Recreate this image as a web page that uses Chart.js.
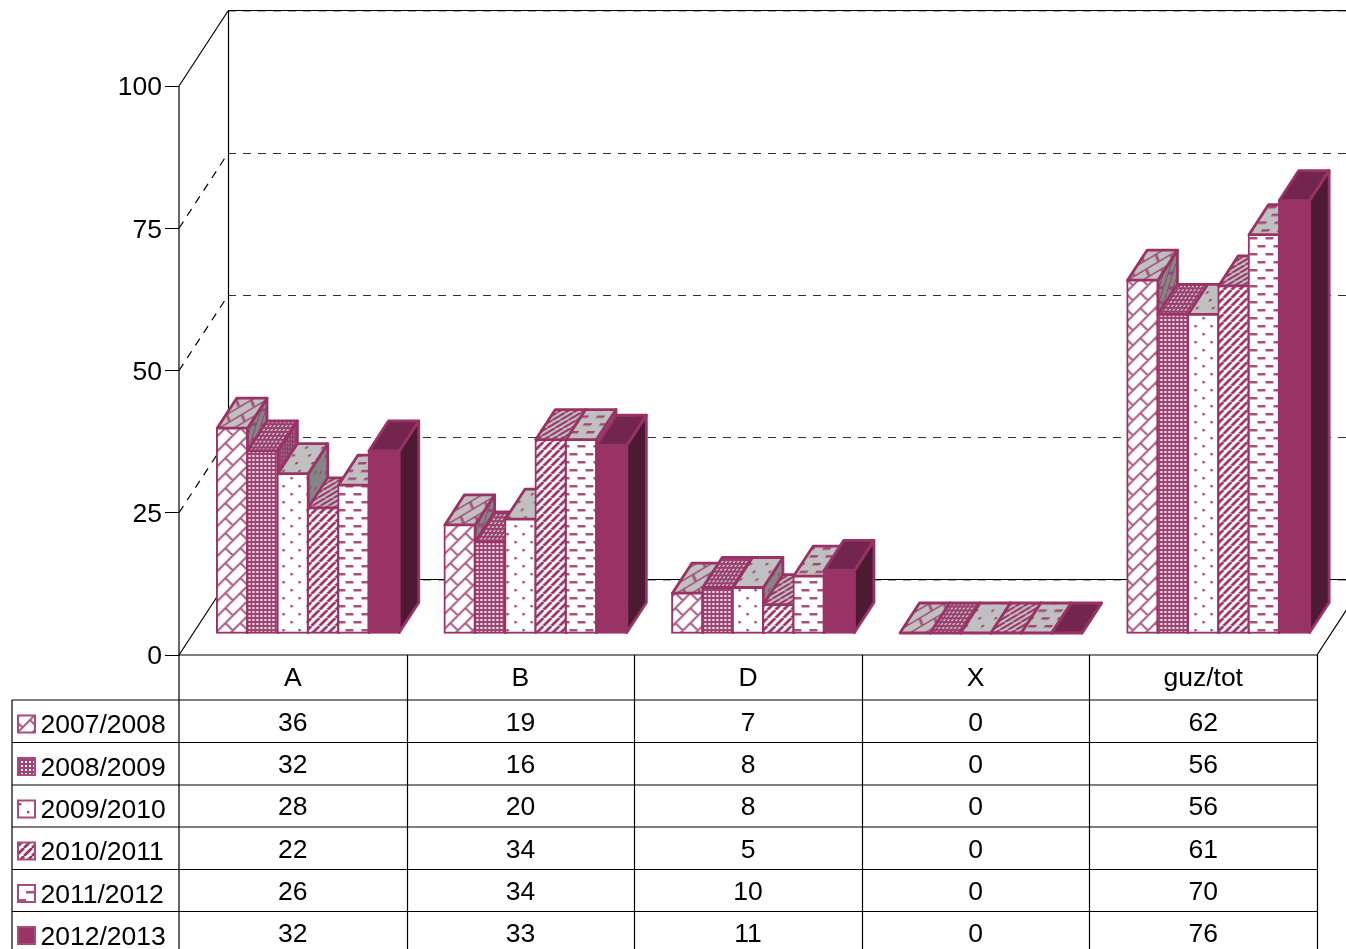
<!DOCTYPE html>
<html>
<head>
<meta charset="utf-8">
<title>chart</title>
<script src="https://cdn.jsdelivr.net/npm/chart.js@4/dist/chart.umd.min.js"></script>
<style>
html, body { margin: 0; padding: 0; background: #fff; overflow: hidden; }
canvas { display: block; }
</style>
</head>
<body>
<canvas id="chart" width="1346" height="949"></canvas>
<script>
const categories = ['A', 'B', 'D', 'X', 'guz/tot'];
const seasons = ['2007/2008', '2008/2009', '2009/2010', '2010/2011', '2011/2012', '2012/2013'];
const values0708 = [36, 19, 7, 0, 62];
const values0809 = [32, 16, 8, 0, 56];
const values0910 = [28, 20, 8, 0, 56];
const values1011 = [22, 34, 5, 0, 61];
const values1112 = [26, 34, 10, 0, 70];
const values1213 = [32, 33, 11, 0, 76];
const yTicks = [0, 25, 50, 75, 100];

const seriesValues = [values0708, values0809, values0910, values1011, values1112, values1213];

const PURPLE = '#993366';
const FONT = '26.5px "Liberation Sans"';
// layout of the fake 3d box
const WALL_DX = 49, WALL_DY = -75;
const BAR_DX = 15.4, BAR_DY = -22;
const DEPTH_DX = 19.5, DEPTH_DY = -30;
const ROW_Y = [700, 742.5, 785, 827, 869.5, 911.5];

// hatch tiles
function brick(c) {
  c.strokeStyle = PURPLE; c.lineWidth = 2; c.globalAlpha = 0.8;
  c.beginPath();
  for (let a = -60; a <= 120; a += 15) {
    c.moveTo(a + 60, -60); c.lineTo(a - 60, 60);
    const k = Math.round(a / 15);
    const off = Math.abs(k % 2) ? 15 : 0;
    for (let m = -4; m <= 4; m++) {
      const d = off + m * 30;
      c.moveTo((a + d) / 2, (a - d) / 2);
      c.lineTo((a + 15 + d) / 2, (a + 15 - d) / 2);
    }
  }
  c.stroke();
}
function denseDots(c) {
  c.fillStyle = PURPLE; c.globalAlpha = 0.92; c.fillRect(0, 0, 4, 4);
  c.clearRect(0.7, 0.7, 2.6, 2.6);
}
function sparseDots(c) {
  c.fillStyle = PURPLE; c.globalAlpha = 0.9;
  c.fillRect(3, 3, 2.4, 2.4);
  c.fillRect(11, 11, 2.4, 2.4);
}
function stripes(c) {
  c.strokeStyle = PURPLE; c.lineWidth = 2.8;
  c.beginPath();
  for (let a = -8; a <= 16; a += 8) { c.moveTo(a, 8); c.lineTo(a + 8, 0); }
  c.stroke();
}
function dashes(c) {
  c.fillStyle = PURPLE; c.globalAlpha = 0.85;
  c.fillRect(2, 3, 8, 2.5);
  c.fillRect(10, 11, 6, 2.5);
  c.fillRect(0, 11, 2, 2.5);
}
const tiles = [[brick, 30], [denseDots, 4], [sparseDots, 16], [stripes, 8], [dashes, 16]];

function makePattern(tile, bg) {
  const cv = document.createElement('canvas');
  cv.width = cv.height = tile[1];
  const c = cv.getContext('2d');
  tile[0](c);
  if (bg) {
    c.globalAlpha = 1;
    c.globalCompositeOperation = 'destination-over';
    c.fillStyle = bg;
    c.fillRect(0, 0, tile[1], tile[1]);
  }
  return c.createPattern(cv, 'repeat');
}

const frontFills = [], topFills = [], sideFills = [];
seasons.forEach((s, i) => {
  if (i < tiles.length) {
    frontFills.push(makePattern(tiles[i], '#ffffff'));
    const t = makePattern(tiles[i], '#c0c0c0');
    t.setTransform(new DOMMatrix([1, 0, -0.63, 0.97, 0, 0]));
    topFills.push(t);
    const d = makePattern(tiles[i], '#858585');
    d.setTransform(new DOMMatrix([0.63, -0.97, 0, 1, 0, 0]));
    sideFills.push(d);
  } else {
    frontFills.push(PURPLE);
    topFills.push('#73264d');
    sideFills.push('#4d1a33');
  }
});

function poly(ctx, pts, fill) {
  ctx.beginPath();
  pts.forEach((p, i) => i ? ctx.lineTo(p[0], p[1]) : ctx.moveTo(p[0], p[1]));
  ctx.closePath();
  ctx.fillStyle = fill;
  ctx.fill();
  ctx.strokeStyle = PURPLE;
  ctx.lineWidth = 2.8;
  ctx.lineJoin = 'round';
  ctx.stroke();
}

function line(ctx, x1, y1, x2, y2, color, dash) {
  ctx.save();
  ctx.beginPath();
  ctx.strokeStyle = color;
  ctx.lineWidth = 1.2;
  ctx.setLineDash(dash || []);
  ctx.moveTo(x1, y1);
  ctx.lineTo(x2, y2);
  ctx.stroke();
  ctx.restore();
}

const box3d = {
  id: 'box3d',
  beforeDatasetsDraw(chart) {
    const ctx = chart.ctx, x = chart.scales.x, y = chart.scales.y;
    const backX = x.left + WALL_DX;
    const farX = x.right + WALL_DX;
    yTicks.forEach(v => {
      const py = y.getPixelForValue(v);
      const solid = v === 0 || v === 100;
      const dash = solid ? null : [8, 7];
      line(ctx, x.left, py, backX, py + WALL_DY, '#000', dash);
      if (solid) line(ctx, backX, Math.floor(py + WALL_DY) - 0.5, farX, Math.floor(py + WALL_DY) - 0.5, '#000');
      line(ctx, backX, Math.floor(py + WALL_DY) + 0.5, farX, Math.floor(py + WALL_DY) + 0.5, solid ? '#aaa' : '#333', [8, 7]);
    });
    line(ctx, backX + 0.5, y.top + WALL_DY, backX + 0.5, y.bottom + WALL_DY, '#000');
    line(ctx, x.right, y.bottom, farX, y.bottom + WALL_DY, '#000');
  },
  // chart.js paints the last dataset first, the bars here overlap left to right
  beforeDatasetDraw() {
    return false;
  },
  afterDatasetsDraw(chart) {
    const ctx = chart.ctx;
    chart.getSortedVisibleDatasetMetas().forEach(meta => {
      const i = meta.index;
      ctx.save();
      ctx.translate(BAR_DX, BAR_DY);
      meta.controller.draw();
      meta.data.forEach(bar => {
        const L = bar.x - bar.width / 2, R = bar.x + bar.width / 2, T = bar.y, B = bar.base;
        poly(ctx, [[R, T], [R + DEPTH_DX, T + DEPTH_DY], [R + DEPTH_DX, B + DEPTH_DY], [R, B]], sideFills[i]);
        poly(ctx, [[L, T], [R, T], [R + DEPTH_DX, T + DEPTH_DY], [L + DEPTH_DX, T + DEPTH_DY]], topFills[i]);
      });
      ctx.restore();
    });
  },
  afterDraw(chart) {
    const ctx = chart.ctx, x = chart.scales.x, y = chart.scales.y;
    const H = chart.height;
    // data table under the plot
    line(ctx, x.left, y.top, x.left, H, '#000');
    line(ctx, 12, ROW_Y[0], 12, H, '#000');
    line(ctx, x.left, y.bottom, x.right, y.bottom, '#000');
    categories.forEach((c, i) => {
      const px = Math.round(x.getPixelForValue(i) + (x.getPixelForValue(1) - x.getPixelForValue(0)) / 2) + 0.5;
      line(ctx, px, y.bottom, px, H, '#000');
    });
    ROW_Y.forEach(ry => line(ctx, 12, ry, x.right, ry, '#000'));

    ctx.save();
    ctx.font = FONT;
    ctx.fillStyle = '#000';
    ctx.textBaseline = 'alphabetic';
    seasons.forEach((name, r) => {
      const top = ROW_Y[r];
      ctx.fillStyle = frontFills[r];
      ctx.fillRect(18, top + 15.5, 17, 17);
      ctx.strokeStyle = '#a84d7a';
      ctx.lineWidth = 2;
      ctx.strokeRect(18, top + 15.5, 17, 17);
      ctx.fillStyle = '#000';
      ctx.textAlign = 'left';
      ctx.fillText(name, 40.5, top + 33);
      ctx.textAlign = 'center';
      seriesValues[r].forEach((v, i) => ctx.fillText(String(v), x.getPixelForValue(i), 731 + r * 42.2));
    });
    ctx.restore();
  }
};

const datasets = seasons.map((name, i) => ({
  label: name,
  data: seriesValues[i],
  backgroundColor: frontFills[i],
  borderColor: PURPLE,
  borderWidth: 2,
  inflateAmount: 1.25,
  borderSkipped: false,
  clip: false
}));

new Chart(document.getElementById('chart').getContext('2d'), {
  type: 'bar',
  data: { labels: categories, datasets },
  plugins: [box3d],
  options: {
    responsive: false,
    animation: false,
    events: [],
    layout: { padding: { left: 0, right: 29, top: 86, bottom: 0 } },
    plugins: { legend: { display: false }, tooltip: { enabled: false }, title: { display: false } },
    datasets: { bar: { categoryPercentage: 0.8, barPercentage: 1 } },
    scales: {
      x: {
        grid: { display: false },
        border: { display: false },
        ticks: { color: '#000', font: { family: 'Liberation Sans', size: 26.5 }, padding: 0, maxRotation: 0 },
        afterFit(s) { s.height = 294; s.paddingLeft = 0; s.paddingRight = 0; }
      },
      y: {
        min: 0,
        max: 100,
        afterBuildTicks(s) { s.ticks = yTicks.map(v => ({ value: v })); },
        grid: { drawOnChartArea: false, tickLength: 14, color: '#000', tickWidth: 1 },
        border: { display: false },
        ticks: { color: '#000', font: { family: 'Liberation Sans', size: 26.5 }, padding: 3, labelOffset: 2 },
        afterFit(s) { s.width = 179; s.paddingTop = 0; s.paddingBottom = 0; }
      }
    }
  }
});
</script>
</body>
</html>
